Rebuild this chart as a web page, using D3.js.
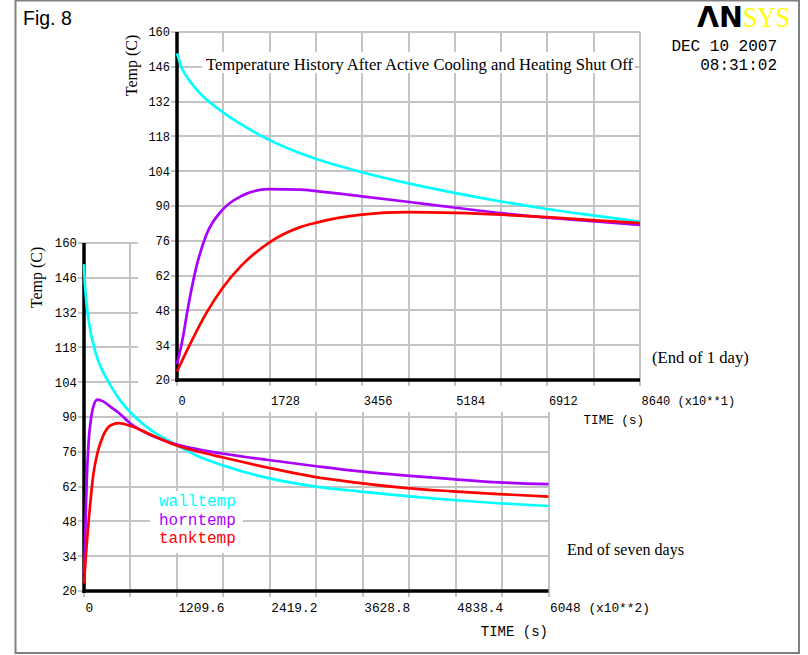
<!DOCTYPE html>
<html>
<head>
<meta charset="utf-8">
<script src="https://cdn.jsdelivr.net/npm/d3@7"></script>
<style>
  body { margin: 0; background: #fff; }
  svg { display: block; }
</style>
</head>
<body>
<div id="chart"></div>
<script>
// Values. Day run time is in x10 s, week run in x100 s.
const dayTime = [0, 100, 200, 350, 550, 850, 1200, 1700, 2300, 2600, 3450, 4300, 5200, 6050, 6900, 7800, 8640];
const dayWall = [151.4, 145, 141.5, 137.2, 132.8, 127.8, 122.8, 116.8, 111.2, 108.9, 103.6, 99.2, 95.2, 91.8, 88.8, 86.1, 83.7];
const dayHorn = [26.4, 36, 48.5, 64.5, 78.5, 88.5, 94, 96.8, 96.6, 96, 93.9, 91.7, 89.3, 87.1, 85.3, 83.8, 82.4];
const dayTank = [23.4, 28, 32.5, 39, 47, 57, 66, 75, 81.5, 83.3, 86.5, 87.5, 87.2, 86.5, 85.5, 84.2, 83.1];

const weekTime = [0, 10, 20, 35, 60, 90, 120, 175, 250, 350, 450, 600, 860, 1200, 1500, 1800, 2400, 3000, 3600, 4200, 4800, 5400, 6048];
const weekWall = [151.5, 144, 140, 135, 129, 123.5, 119.5, 113.5, 108, 102.5, 97.5, 92, 85, 78.8, 74, 70.6, 65.4, 62.1, 60, 58.2, 56.6, 55.3, 54.2];
const weekHorn = [27, 37, 47.5, 64, 80, 89, 94, 97, 96.3, 94, 91.7, 87.5, 82.8, 79, 76.9, 75.3, 72.7, 70.3, 68.1, 66.4, 65, 63.7, 63];
const weekTank = [23, 27.5, 32, 38.5, 48, 58, 66.5, 75.5, 82.5, 86.7, 87.5, 86.5, 83.1, 78.6, 76, 73.8, 69.6, 65.9, 63.4, 61.4, 60.1, 59, 58];

const tempTicks = [20, 34, 48, 62, 76, 90, 104, 118, 132, 146, 160];
const dayTicks = [0, 1728, 3456, 5184, 6912, 8640];
const weekTicks = [0, 1209.6, 2419.2, 3628.8, 4838.4, 6048];

const seriesNames = ["walltemp", "horntemp", "tanktemp"];
const seriesColors = ["#00ffff", "#aa00ff", "#ff0000"];

const width = 808;
const height = 655;
const gridColor = "#c4c4c4";
const mono = "'Liberation Mono', 'Courier New', monospace";
const serif = "'Liberation Serif', 'Times New Roman', serif";

const svg = d3.select("#chart")
    .append("svg")
    .attr("width", width)
    .attr("height", height);

svg.append("rect")
    .attr("width", width)
    .attr("height", height)
    .attr("fill", "#fff");

// Draws one temperature history panel (grid, thick axes, curves, tick labels)
const drawChart = (g, opts) => {
    const { x, y, ticks, lastLabel, series, xFont, yFont } = opts;
    const [x0, x1] = x.range();
    const [yBot, yTop] = y.range();

    // vertical grid: labelled ticks plus one line half way between
    const gridX = ticks.flatMap((t, i) => i ? [(ticks[i - 1] + t) / 2, t] : [t]);
    g.selectAll(".vgrid")
        .data(gridX)
        .join("line")
        .attr("class", "vgrid")
        .attr("x1", d => Math.round(x(d)))
        .attr("x2", d => Math.round(x(d)))
        .attr("y1", yTop)
        .attr("y2", yBot + 6)
        .attr("stroke", gridColor)
        .attr("stroke-width", 2);

    g.selectAll(".hgrid")
        .data(tempTicks)
        .join("line")
        .attr("class", "hgrid")
        .attr("x1", x0 - 6)
        .attr("x2", x1)
        .attr("y1", d => Math.round(y(d)))
        .attr("y2", d => Math.round(y(d)))
        .attr("stroke", gridColor)
        .attr("stroke-width", 2);

    if (opts.before) opts.before(g);

    /* axes */
    g.append("line")
        .attr("x1", x0).attr("x2", x0)
        .attr("y1", yTop).attr("y2", yBot + 2)
        .attr("stroke", "#000").attr("stroke-width", 3.5);
    g.append("line")
        .attr("x1", x0 - 1.5).attr("x2", x1)
        .attr("y1", yBot).attr("y2", yBot)
        .attr("stroke", "#000").attr("stroke-width", 3.5);

    /* curves, drawn over the axes like the original */
    const line = d3.line()
        .x(d => x(d[0]))
        .y(d => y(d[1]))
        .curve(d3.curveMonotoneX);

    series.forEach((vals, i) => {
        g.append("path")
            .datum(opts.time.map((t, j) => [t, vals[j]]))
            .attr("d", line)
            .attr("fill", "none")
            .attr("stroke", seriesColors[i])
            .attr("stroke-width", 2.7);
    });

    const leftAxis = d3.axisLeft(y)
        .tickValues(tempTicks)
        .tickSize(0)
        .tickPadding(7)
        .tickFormat(d3.format("d"));
    g.append("g")
        .attr("transform", `translate(${x0},0)`)
        .call(leftAxis)
        .call(a => a.select(".domain").remove())
        .attr("font-family", mono)
        .attr("font-size", yFont);

    const bottomAxis = d3.axisBottom(x)
        .tickValues(ticks)
        .tickSize(0)
        .tickFormat((d, i) => i === ticks.length - 1 ? `${d} ${lastLabel}` : `${d}`);
    const xg = g.append("g")
        .attr("transform", `translate(0,${opts.labelY})`)
        .call(bottomAxis)
        .call(a => a.select(".domain").remove())
        .attr("font-family", mono)
        .attr("font-size", xFont)
        .attr("text-anchor", "start");
    xg.selectAll("text")
        .attr("x", 1)
        .attr("y", 0)
        .attr("dy", null);
};

/*********************************/
/* Lower chart: end of seven days */
/*********************************/
const xWeek = d3.scaleLinear().domain([0, 6048]).range([84, 548.5]);
const yWeek = d3.scaleLinear().domain([20, 160]).range([591, 243]);
const weekG = svg.append("g");
drawChart(weekG, {
    x: xWeek, y: yWeek, ticks: weekTicks, lastLabel: "(x10**2)",
    time: weekTime, series: [weekWall, weekHorn, weekTank],
    labelY: 612, xFont: 12.8, yFont: 12.3,
    before: g => {
        // legend sits on a white box over the grid
        g.append("rect")
            .attr("x", 150).attr("y", 491)
            .attr("width", 93).attr("height", 62)
            .attr("fill", "#fff");
    }
});

const legend = weekG.append("g")
    .attr("font-family", mono)
    .attr("font-size", 16);
seriesNames.forEach((name, i) => {
    legend.append("text")
        .attr("x", 159)
        .attr("y", 506 + i * 18.6)
        .attr("fill", seriesColors[i])
        .text(name);
});

weekG.append("text")
    .attr("text-anchor", "end")
    .attr("x", 548)
    .attr("y", 636)
    .attr("font-family", mono)
    .attr("font-size", 14)
    .text("TIME (s)");

weekG.append("text")
    .attr("text-anchor", "middle")
    .attr("transform", "rotate(-90)")
    .attr("x", -277.5)
    .attr("y", 42)
    .attr("font-family", serif)
    .attr("font-size", 16)
    .text("Temp (C)");

svg.append("text")
    .attr("x", 567)
    .attr("y", 555)
    .attr("font-family", serif)
    .attr("font-size", 16)
    .text("End of seven days");

/*******************************/
/* Upper chart: end of one day  */
/*******************************/
svg.append("rect")
    .attr("x", 138).attr("y", 2)
    .attr("width", 660).attr("height", 410)
    .attr("fill", "#fff");

const xDay = d3.scaleLinear().domain([0, 8640]).range([177, 640]);
const yDay = d3.scaleLinear().domain([20, 160]).range([380, 32]);
const dayG = svg.append("g");
drawChart(dayG, {
    x: xDay, y: yDay, ticks: dayTicks, lastLabel: "(x10**1)",
    time: dayTime, series: [dayWall, dayHorn, dayTank],
    labelY: 405, xFont: 12, yFont: 12,
    before: g => {
        g.append("rect")
            .attr("x", 202).attr("y", 52)
            .attr("width", 433).attr("height", 21)
            .attr("fill", "#fff");
    }
});

dayG.append("text")
    .attr("x", 206)
    .attr("y", 70)
    .attr("font-family", serif)
    .attr("font-size", 16.6)
    .text("Temperature History After Active Cooling and Heating Shut Off");

dayG.append("text")
    .attr("text-anchor", "middle")
    .attr("transform", "rotate(-90)")
    .attr("x", -65.5)
    .attr("y", 137)
    .attr("font-family", serif)
    .attr("font-size", 16)
    .text("Temp (C)");

dayG.append("text")
    .attr("text-anchor", "end")
    .attr("x", 644)
    .attr("y", 424)
    .attr("font-family", mono)
    .attr("font-size", 12.6)
    .text("TIME (s)");

svg.append("text")
    .attr("x", 652)
    .attr("y", 363)
    .attr("font-family", serif)
    .attr("font-size", 16.7)
    .text("(End of 1 day)");

/*****************************/
/* Figure label, logo, stamp */
/*****************************/
svg.append("text")
    .attr("x", 23)
    .attr("y", 25)
    .attr("font-family", "'Liberation Sans', Arial, sans-serif")
    .attr("font-size", 19.5)
    .text("Fig. 8");

svg.append("text")
    .attr("x", 697)
    .attr("y", 26.5)
    .attr("font-family", "'DejaVu Sans', sans-serif")
    .attr("font-weight", "bold")
    .attr("font-size", 28)
    .attr("textLength", 46)
    .attr("lengthAdjust", "spacingAndGlyphs")
    .text("ΛN");

svg.append("text")
    .attr("x", 743)
    .attr("y", 26.5)
    .attr("font-family", serif)
    .attr("font-size", 29)
    .attr("fill", "#ffff00")
    .attr("textLength", 47)
    .attr("lengthAdjust", "spacingAndGlyphs")
    .text("SYS");

const stamp = svg.append("g")
    .attr("font-family", mono)
    .attr("font-size", 16)
    .attr("text-anchor", "end");
stamp.append("text").attr("x", 777).attr("y", 51).text("DEC 10 2007");
stamp.append("text").attr("x", 777).attr("y", 70).text("08:31:02");

// outer frame
svg.append("rect")
    .attr("x", 15.5)
    .attr("y", 0.5)
    .attr("width", 783.5)
    .attr("height", 652.5)
    .attr("fill", "none")
    .attr("stroke", "#808080")
    .attr("stroke-width", 2);
</script>
</body>
</html>
